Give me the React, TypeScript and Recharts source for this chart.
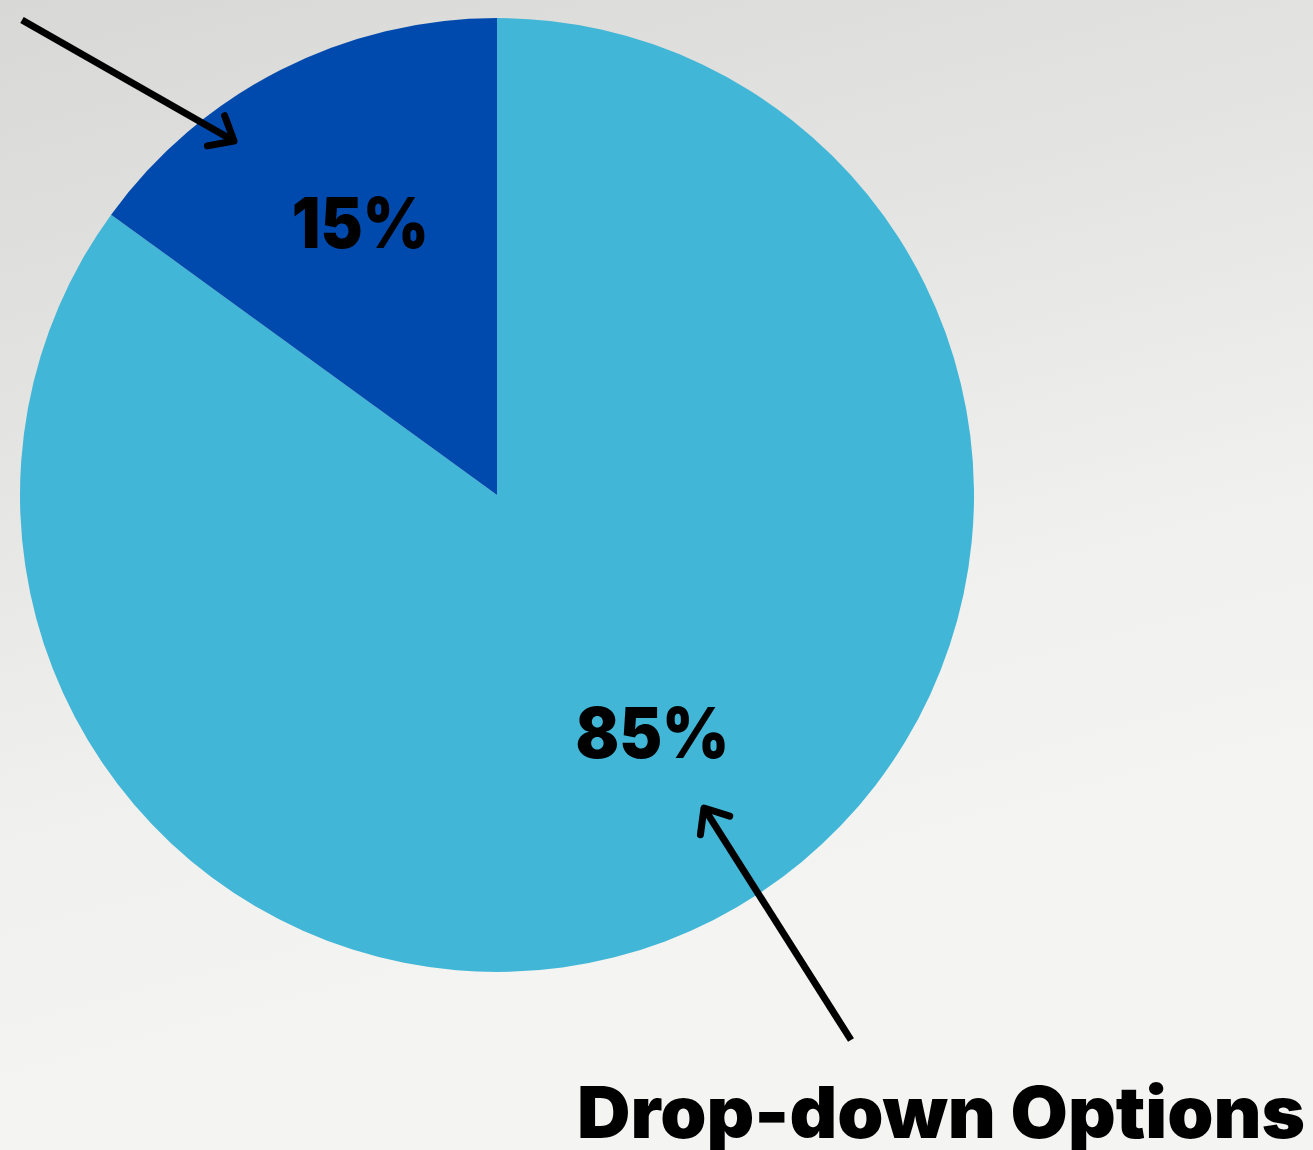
import React from "react";
import { PieChart, Pie, Cell } from "recharts";

const sliceNames = ["Drop-down Options", "Other"];
const sliceValues = [85, 15];
const sliceLabels = ["85%", "15%"];
const calloutText = "Drop-down Options";

const COLORS = ["#42B6D6", "#004AAD"];
const W = 1313;
const H = 1150;
const CX = 497;
const CY = 495;
const R = 477;

const data = sliceNames.map((name, i) => ({ name, value: sliceValues[i], label: sliceLabels[i] }));

// label placement tweaks per slice (radius fraction, angle offset in deg)
const labelStyle = [
  { rf: 0.595, dA: 6.2, w: 154 },
  { rf: 0.64, dA: -0.4, w: 137 },
];

const RADIAN = Math.PI / 180;

const renderLabel = (props: any) => {
  const { cx, cy, midAngle, outerRadius, index } = props;
  const s = labelStyle[index];
  const a = (midAngle + s.dA) * RADIAN;
  const r = outerRadius * s.rf;
  const x = cx + r * Math.cos(a);
  const y = cy - r * Math.sin(a);
  return (
    <text
      x={x}
      y={y + 26}
      textAnchor="middle"
      fill="#000"
      fontFamily="Inter, 'DejaVu Sans', sans-serif"
      fontWeight={900}
      fontSize={70}
      textLength={s.w}
      lengthAdjust="spacingAndGlyphs"
    >
      {data[index].label}
    </text>
  );
};

const Arrow = ({ x1, y1, x2, y2 }: { x1: number; y1: number; x2: number; y2: number }) => {
  const ang = Math.atan2(y2 - y1, x2 - x1);
  const head = 27;
  const spread = 40 * RADIAN;
  const ax = x2 - head * Math.cos(ang - spread);
  const ay = y2 - head * Math.sin(ang - spread);
  const bx = x2 - head * Math.cos(ang + spread);
  const by = y2 - head * Math.sin(ang + spread);
  return (
    <g stroke="#000" fill="none" strokeWidth={7}>
      <line x1={x1} y1={y1} x2={x2 - 3 * Math.cos(ang)} y2={y2 - 3 * Math.sin(ang)} />
      <polyline points={`${ax},${ay} ${x2},${y2} ${bx},${by}`} strokeLinecap="round" strokeLinejoin="round" />
    </g>
  );
};

export default function App() {
  return (
    <div
      style={{
        position: "fixed",
        left: 0,
        top: 0,
        width: W,
        height: H,
        overflow: "hidden",
        background: "linear-gradient(165deg, #d8d8d6 0%, #e4e4e2 30%, #f0f0ee 55%, #f4f4f2 75%, #f4f4f2 100%)",
      }}
    >
      <PieChart width={W} height={H} margin={{ top: 0, right: 0, bottom: 0, left: 0 }}>
        <Pie
          data={data}
          dataKey="value"
          cx={CX}
          cy={CY}
          outerRadius={R}
          innerRadius={0}
          startAngle={90}
          endAngle={-270}
          stroke="none"
          labelLine={false}
          label={renderLabel}
          isAnimationActive={false}
        >
          {data.map((d, i) => (
            <Cell key={d.name} fill={COLORS[i]} />
          ))}
        </Pie>
      </PieChart>
      <svg
        width={W}
        height={H}
        style={{ position: "absolute", left: 0, top: 0, pointerEvents: "none" }}
      >
        <Arrow x1={22} y1={20} x2={234} y2={141} />
        <Arrow x1={851} y1={1040} x2={704} y2={808} />
        <text
          x={577}
          y={1138}
          fill="#000"
          fontFamily="Inter, 'DejaVu Sans', sans-serif"
          fontWeight={900}
          fontSize={72}
          textLength={728}
          lengthAdjust="spacingAndGlyphs"
        >
          {calloutText}
        </text>
      </svg>
    </div>
  );
}
